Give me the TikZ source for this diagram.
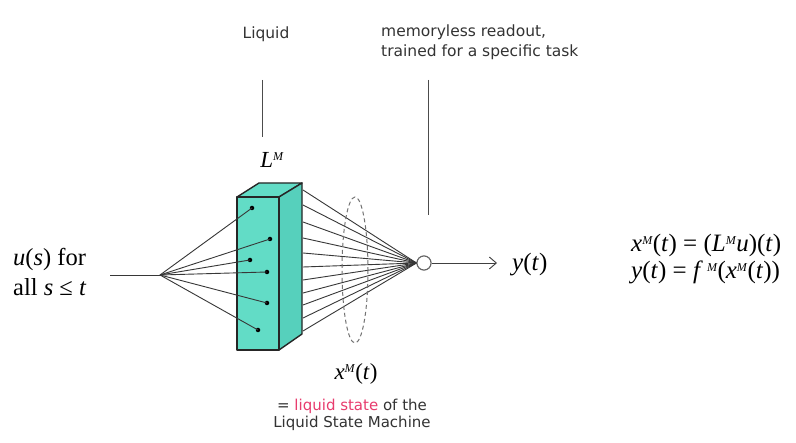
\documentclass[tikz,border=0pt]{standalone}
\usepackage{fontspec}
\setmainfont{Liberation Serif}
\newfontfamily\labfont{DejaVu Sans}
\usetikzlibrary{arrows.meta}
\definecolor{teal1}{RGB}{98,220,198}
\definecolor{teal2}{RGB}{86,208,188}
\definecolor{pinkc}{RGB}{232,60,110}
\definecolor{fan}{RGB}{55,55,55}
\newcommand{\spM}{\raisebox{7pt}{\fontsize{12}{12}\selectfont\textit{M}}}
\tikzset{
  lab/.style={font=\labfont\fontsize{15.5}{20}\selectfont, text=black!80, align=left},
  mth/.style={font=\fontsize{23}{28}\selectfont, inner sep=0pt},
  fanline/.style={draw=fan, line width=0.9pt},
  guide/.style={draw=black!70, line width=1pt},
  dot/.style={circle, fill=black, inner sep=0pt, minimum size=4.5pt},
  face/.style={draw=black!85, line width=1.4pt, line join=round}
}
\begin{document}
\begin{tikzpicture}[x=1pt,y=-1pt]
\path[use as bounding box, fill=white] (0,0) rectangle (796,443);

% texts at top
\node[lab, anchor=center] (liq) at (266,34) {Liquid};
\node[lab, anchor=north west, inner sep=0pt] (ro) at (381,25) {memoryless readout,\\trained for a specific task};
\coordinate (g1a) at (262,80); \coordinate (g1b) at (262,137);
\coordinate (g2a) at (428,80); \coordinate (g2b) at (428,215);
\draw[guide] (g1a) -- (g1b);
\draw[guide] (g2a) -- (g2b);

% input
\node[mth, anchor=west, align=left, font=\fontsize{24.5}{30}\selectfont] (u) at (13,272) {\textit{u}(\textit{s}) for\\all \textit{s} ≤ \textit{t}};
\coordinate (ustart) at (110,275);
\coordinate (in) at (160,275);
\draw[fanline] (ustart) -- (in);

% box
\coordinate (fa) at (237,197); \coordinate (fb) at (279,197);
\coordinate (fc) at (279,350); \coordinate (fd) at (237,350);
\coordinate (ba) at (259,183); \coordinate (bb) at (302,183);
\coordinate (bc) at (302,334);
\filldraw[face, fill=teal1] (fa) -- (ba) -- (bb) -- (fb) -- cycle;
\filldraw[face, fill=teal2] (fb) -- (bb) -- (bc) -- (fc) -- cycle;
\filldraw[face, fill=teal1] (fa) -- (fb) -- (fc) -- (fd) -- cycle;

% dots inside
\node[dot] (d1) at (252,208) {};
\node[dot] (d2) at (270,239) {};
\node[dot] (d3) at (250,260) {};
\node[dot] (d4) at (267,272) {};
\node[dot] (d5) at (267,303) {};
\node[dot] (d6) at (258,330) {};
\foreach \i in {1,...,6} \draw[fanline] (in) -- (d\i.center);

% readout neuron
\node[circle, draw=black!60, fill=white, line width=1pt, minimum size=14pt, inner sep=0pt] (out) at (424,263) {};
\foreach [count=\k] \y in {190,205,222,238,253,267,280,293,305,318,331} {
  \coordinate (s\k) at (303,\y);
  \draw[fanline] (s\k) -- (out.west);
}
\node[circle, draw=black!60, fill=white, line width=1pt, minimum size=14pt, inner sep=0pt] at (out) {};
\draw[dashed, dash pattern=on 4pt off 3pt, draw=black!55, line width=1pt] (355,270) ellipse [x radius=13, y radius=73];

% output
\coordinate (arrend) at (497,263);
\draw[black!75, line width=0.9pt, -{Straight Barb[length=7pt, width=12pt]}] (out.east) -- (arrend);
\node[mth, anchor=west, font=\fontsize{25}{28}\selectfont] (y) at (512,265) {\textit{y}(\textit{t})};

% labels
\node[mth] (L) at (272,160) {\textit{L}\spM};
\node[mth] (xm) at (356,374) {\textit{x}\spM(\textit{t})};
\node[lab, align=center, anchor=north, inner sep=0pt, font=\labfont\fontsize{15}{17}\selectfont] (ls) at (352,399) {= \textcolor{pinkc}{liquid state} of the\\Liquid State Machine};

% equations
\node[mth, anchor=west, font=\fontsize{25}{28}\selectfont] (e1) at (631,245) {\textit{x}\spM(\textit{t}) = (\textit{L}\spM\textit{u})(\textit{t})};
\node[mth, anchor=west, font=\fontsize{25}{28}\selectfont] (e2) at (631,272) {\textit{y}(\textit{t}) = \textit{f}\,\spM(\textit{x}\spM(\textit{t}))};
\end{tikzpicture}
\end{document}
